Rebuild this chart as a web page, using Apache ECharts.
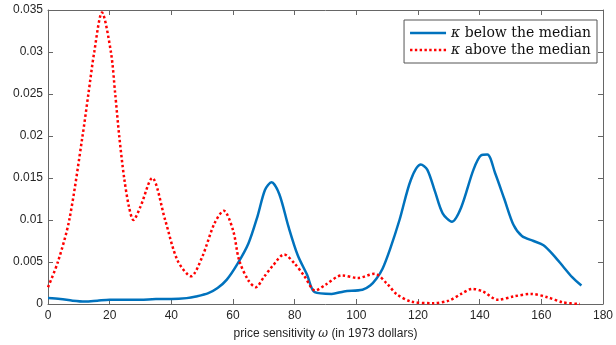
<!DOCTYPE html>
<html><head><meta charset="utf-8">
<script src="https://cdn.jsdelivr.net/npm/echarts@6/dist/echarts.min.js"></script>
<style>html,body{margin:0;padding:0;background:#fff}#c{width:616px;height:345px}</style>
</head><body><div id="c"></div>
<script>
// κ below the median
var belowX = [0,4,8,12,16,20,25,30,35,40,45,48,52,55,58,61.5,65,68,70.4,72.5,75,78,81,84,86.5,92,96,102,104.5,106.5,108.5,111,114,117.7,120.9,123,125.5,128,131,134,138,140.5,142.5,145,148,151,153.7,157.5,160.7,164,167,170,173];
var belowY = [0.0007,0.0006,0.0004,0.0003,0.0004,0.0005,0.0005,0.0005,0.0006,0.0006,0.0007,0.0009,0.0013,0.0019,0.0029,0.0048,0.0072,0.0105,0.0136,0.0145,0.0131,0.0092,0.0058,0.0035,0.0014,0.0012,0.0015,0.0017,0.0022,0.0030,0.0042,0.0066,0.0100,0.0148,0.0166,0.0160,0.0134,0.0108,0.0098,0.0115,0.0160,0.0177,0.0178,0.0156,0.0125,0.0094,0.0081,0.0075,0.0070,0.0058,0.0045,0.0032,0.0022];
// κ above the median
var aboveX = [0,3.2,6.9,11.2,13.1,15,17.5,20.4,21.8,23.1,24.7,26.3,27.7,30,33.8,38,42,46.4,50,54,57,60,62,65,67.4,70,73,76.6,80,83,86.7,90,95.3,100.5,105.9,110,113,117.7,125,130,134,137.6,141,146,151,156.7,162,167,172.5];
var aboveY = [0.0020,0.0050,0.0100,0.0200,0.0250,0.0300,0.0347,0.0300,0.0250,0.0200,0.0150,0.0115,0.0100,0.0116,0.0150,0.0100,0.0052,0.0033,0.0056,0.0096,0.0111,0.0088,0.0052,0.0028,0.0020,0.0032,0.0046,0.0059,0.0048,0.0034,0.0016,0.0023,0.0034,0.0031,0.0036,0.0024,0.0012,0.0003,0.0001,0.0004,0.0012,0.0018,0.0015,0.0005,0.0009,0.0012,0.0008,0.0002,0.0000];
var xTicks = {min:0, max:180, interval:20};
var yTicks = {min:0, max:0.035, interval:0.005};
var seriesNames = ['κ below the median','κ above the median'];

function pairs(xs, ys){ return xs.map(function(x,i){return [x, ys[i]];}); }

var dotIcon = 'path://' + [0,4.8,9.6,14.4,19.2,24,28.8,33.6].map(function(x){
  return 'M' + x + ',0h2.4v2.4h-2.4z';}).join(' ');

var axisCol = '#666';
var labCol = '#262626';
var chart = echarts.init(document.getElementById('c'));
var baseAxis = {
  type:'value', axisLine:{show:true, onZero:false, lineStyle:{color:axisCol, width:1}},
  axisTick:{show:true, inside:true, length:5, lineStyle:{color:axisCol}},
  splitLine:{show:false}
};
chart.setOption({
  animation:false,
  grid:{left:48, right:9, top:10, bottom:41},
  legend:{
    right:19, top:20, orient:'vertical', itemGap:3, itemWidth:36, itemHeight:14,
    padding:[6,6,6,6],
    backgroundColor:'#fff', borderColor:'#555', borderWidth:1,
    data:[{name:seriesNames[0], icon:'path://M0,0 L36,0 L36,2.5 L0,2.5 Z'}, {name:seriesNames[1], icon:dotIcon}],
    formatter:function(n){ return '{k|κ}' + n.slice(1); },
    textStyle:{fontFamily:'DejaVu Serif', fontSize:14, color:'#111',
      rich:{k:{fontFamily:'DejaVu Serif', fontStyle:'italic', fontSize:14, color:'#111'}}}
  },
  xAxis:[
    Object.assign({}, baseAxis, xTicks, {position:'bottom',
      name:'price sensitivity {w|ω} (in 1973 dollars)', nameLocation:'middle', nameGap:24,
      nameTextStyle:{fontFamily:'Liberation Sans', fontSize:12, color:labCol,
        rich:{w:{fontFamily:'DejaVu Serif', fontStyle:'italic', fontSize:12, color:labCol}}},
      axisLabel:{fontFamily:'Liberation Sans', fontSize:12, color:labCol, margin:6}}),
    Object.assign({}, baseAxis, xTicks, {position:'top', axisLabel:{show:false}})
  ],
  yAxis:[
    Object.assign({}, baseAxis, yTicks, {position:'left',
      axisLabel:{fontFamily:'Liberation Sans', fontSize:12, color:labCol, margin:5}}),
    Object.assign({}, baseAxis, yTicks, {position:'right', axisLabel:{show:false}})
  ],
  series:[
    {name:seriesNames[0], type:'line', xAxisIndex:0, yAxisIndex:0, data:pairs(belowX, belowY),
     smooth:0.3, showSymbol:false, symbol:'none', color:'#0072BD',
     lineStyle:{color:'#0072BD', width:2.5}},
    {name:seriesNames[1], type:'line', xAxisIndex:0, yAxisIndex:0, data:pairs(aboveX, aboveY),
     smooth:0.3, showSymbol:false, symbol:'none', color:'#FF0000',
     lineStyle:{color:'#FF0000', width:2.5, type:[2.5,2.5], cap:'butt'}}
  ]
});
</script></body></html>
